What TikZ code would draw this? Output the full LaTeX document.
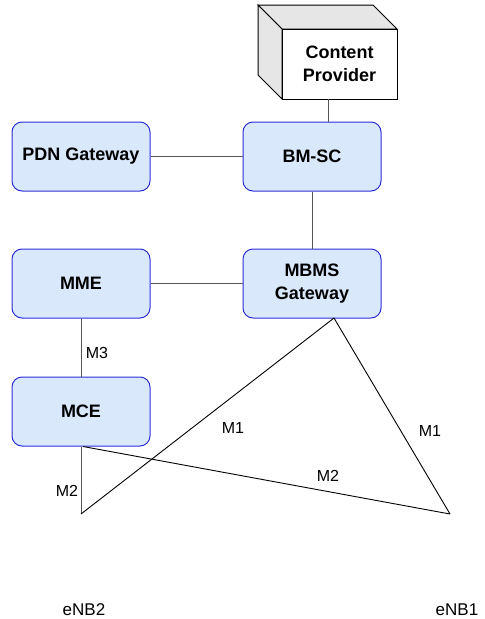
\documentclass[tikz,border=0pt]{standalone}
\usepackage{fontspec}
\setmainfont{Liberation Sans}
\definecolor{boxfill}{HTML}{DAE8FC}
\definecolor{boxdraw}{HTML}{2E2ED6}
\definecolor{conn}{HTML}{555555}
\definecolor{sidegray}{HTML}{E6E6E6}
\begin{document}
\begin{tikzpicture}[x=1pt,y=-1pt,
  netbox/.style={draw=boxdraw, fill=boxfill, rounded corners=10pt, line width=1pt,
    minimum width=138pt, minimum height=69pt, align=center, inner sep=0pt,
    font=\fontsize{18}{23}\selectfont\bfseries},
  conline/.style={draw=conn, line width=1pt},
  triline/.style={draw=black, line width=0.9pt},
  lbl/.style={font=\fontsize{16}{19}\selectfont, inner sep=0pt},
  enblbl/.style={font=\fontsize{17}{20}\selectfont, inner sep=0pt}]
\useasboundingbox (0,0) rectangle (485,619);
% Content Provider cube
\filldraw[fill=sidegray, draw=black, line width=1pt] (258,5) -- (373,5) -- (397,29) -- (282,29) -- cycle;
\filldraw[fill=sidegray, draw=black, line width=1pt] (258,5) -- (282,29) -- (282,99) -- (258,75) -- cycle;
\node[draw=black, fill=white, line width=1pt, minimum width=115pt, minimum height=70pt,
  inner sep=0pt, align=center, font=\fontsize{18}{23}\selectfont\bfseries] (cp) at (339.5,64) {Content\\Provider};
\coordinate (cpb) at (328,99);
% boxes
\node[netbox] (pdn) at (81,156.5) {PDN Gateway};
\node[netbox] (bmsc) at (312,156.5) {BM-SC};
\node[netbox] (mme) at (81,283.5) {MME};
\node[netbox] (mbms) at (312,283.5) {MBMS\\Gateway};
\node[netbox] (mce) at (81,411.5) {MCE};
% eNB points and labels
\coordinate (enb2) at (81,514);
\coordinate (enb1) at (450,514);
\coordinate (mbb) at (334,318);
\node[enblbl] (enbtwo) at (84,610) {eNB2};
\node[enblbl] (enbone) at (457,610) {eNB1};
% connectors
\draw[conline] (cpb) -- (cpb |- bmsc.north);
\draw[conline] (pdn.east) -- (bmsc.west);
\draw[conline] (bmsc.south) -- (mbms.north);
\draw[conline] (mme.east) -- (mbms.west);
\draw[conline] (mme.south) -- (mce.north);
\draw[conline] (mce.south) -- (enb2);
\draw[triline] (mbb) -- (enb2);
\draw[triline] (mbb) -- (enb1);
\draw[triline] ([xshift=2pt]mce.south) -- (enb1);
% labels
\node[lbl] (m3) at (97,353) {M3};
\node[lbl] (m1a) at (233,428) {M1};
\node[lbl] (m1b) at (430,431) {M1};
\node[lbl] (m2a) at (67,491) {M2};
\node[lbl] (m2b) at (328,476) {M2};
\end{tikzpicture}
\end{document}
